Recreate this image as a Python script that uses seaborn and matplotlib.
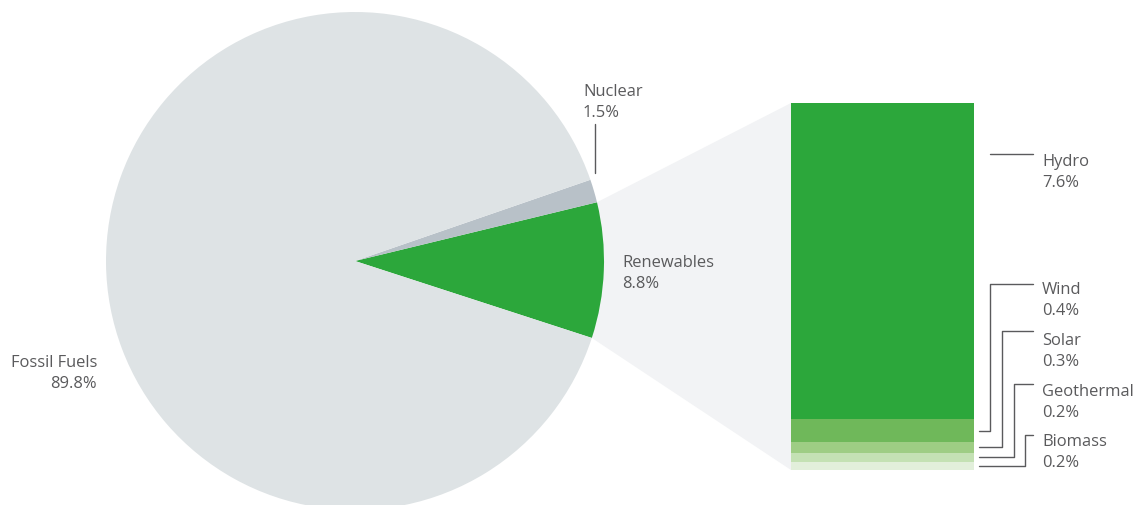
import numpy as np
import matplotlib
matplotlib.use("Agg")
import matplotlib.pyplot as plt
import seaborn as sns

# ---- data ----
pie_labels = ["Renewables", "Nuclear", "Fossil Fuels"]
pie_values = [8.8, 1.5, 89.8]
pie_pct_text = ["8.8%", "1.5%", "89.8%"]

ren_labels = ["Hydro", "Wind", "Solar", "Geothermal", "Biomass"]
ren_values = [7.58, 0.55, 0.26, 0.22, 0.19]      # drawn heights
ren_pct_text = ["7.6%", "0.4%", "0.3%", "0.2%", "0.2%"]

# ---- style ----
sns.set_theme(style="white")
plt.rcParams["font.family"] = ["Open Sans", "DejaVu Sans"]

W, H = 1135, 506
DPI = 100
TXT = "#5a5a5c"
pie_colors = ["#2ca73b", "#b8c1c8", "#dee3e5"]
ren_colors = ["#2ca73b", "#6fb85a", "#9ecd84", "#c4e1b4", "#e2efdb"]
POLY = "#f2f3f5"

fig = plt.figure(figsize=(W / DPI, H / DPI), dpi=DPI)
ax = fig.add_axes([0, 0, 1, 1])

def Y(y):
    return H - y

# pie geometry
cx, cy, R = 355, Y(262), 249
tot = sum(pie_values)
start = -18.0
ang_end = start + pie_values[0] / tot * 360

# bar geometry (pixels)
BX0, BX1, BTOP, BBOT = 791, 974, 104, 471

# projection polygon
p_top = (cx + R * np.cos(np.radians(ang_end)), cy + R * np.sin(np.radians(ang_end)))
p_bot = (cx + R * np.cos(np.radians(start)), cy + R * np.sin(np.radians(start)))
poly = plt.Polygon([(cx, cy), p_top, (BX0, Y(BTOP)), (BX0, Y(BBOT)), p_bot],
                   closed=True, facecolor=POLY, edgecolor="none", zorder=0)
ax.add_patch(poly)

wedges, _ = ax.pie(pie_values, colors=pie_colors, startangle=start, counterclock=True,
                   center=(cx, cy), radius=R, wedgeprops=dict(linewidth=0))
for w in wedges:
    w.set_zorder(2)

ax.set_xlim(0, W)
ax.set_ylim(0, H)
ax.set_aspect("auto")
ax.axis("off")

# stacked bar drawn with seaborn (overlaid cumulative bars)
bax = fig.add_axes([BX0 / W, (H - BBOT) / H, (BX1 - BX0) / W, (BBOT - BTOP) / H])
ren_tot = sum(ren_values)
cums = np.cumsum(ren_values[::-1])[::-1]
for h, c in zip(cums, ren_colors):
    sns.barplot(x=["Renewables"], y=[h], color=c, saturation=1, width=1,
                errorbar=None, linewidth=0, ax=bax)
bax.set_xlim(-0.5, 0.5)
bax.set_ylim(0, ren_tot)
bax.axis("off")

fs = 11.9
kw = dict(color=TXT, fontsize=fs, fontweight="normal")

def two_line(x, y1, name, pct, ha="left"):
    ax.text(x, Y(y1), name, ha=ha, va="baseline", **kw)
    ax.text(x, Y(y1 + 21), pct, ha=ha, va="baseline", **kw)

# pie labels
two_line(583, 96, pie_labels[1], pie_pct_text[1])
two_line(622, 267, pie_labels[0], pie_pct_text[0])
two_line(97, 367, pie_labels[2], pie_pct_text[2], ha="right")
ax.plot([595, 595], [Y(125), Y(174)], color=TXT, lw=1.0, zorder=3)

# renewables labels and connectors
LX = 1042
label_base = [166, 294, 345, 396, 446]
line_y = [155, 285, 332, 385, 436]
elbow_x = [990, 990, 1002, 1014, 1025]
scale = (BBOT - BTOP) / ren_tot
below = cums - np.array(ren_values)
for i, (name, pct) in enumerate(zip(ren_labels, ren_pct_text)):
    two_line(LX, label_base[i], name, pct)
    if i == 0:
        ax.plot([elbow_x[i], 1033], [Y(line_y[i])] * 2, color=TXT, lw=1.0)
    else:
        mid = BBOT - (below[i] + ren_values[i] / 2) * scale
        ax.plot([979, elbow_x[i], elbow_x[i], 1033],
                [Y(mid), Y(mid), Y(line_y[i]), Y(line_y[i])], color=TXT, lw=1.0)

fig.savefig("out.png", dpi=DPI, facecolor="white")
